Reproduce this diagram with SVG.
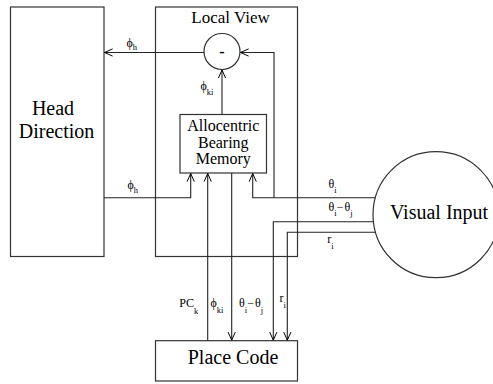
<svg xmlns="http://www.w3.org/2000/svg" width="493" height="384" viewBox="0 0 493 384">
<defs>
<style>
.box{fill:none;stroke:#333;stroke-width:1.2}
.ln{fill:none;stroke:#222;stroke-width:1.1}
text{font-family:'Liberation Serif','Times New Roman',Tinos,'DejaVu Serif',serif;fill:#000}
.big{font-size:20px;text-anchor:middle}
.mid{font-size:16px;text-anchor:middle}
.lab{font-size:12px}
.sub{font-size:8.5px}
</style>
<marker id="ah" viewBox="0 0 10 10" refX="9" refY="5" markerWidth="9" markerHeight="9" markerUnits="userSpaceOnUse" orient="auto">
<path d="M0,1 L9,5 L0,9" fill="none" stroke="#000" stroke-width="1.1"/>
</marker>
</defs>
<rect width="493" height="384" fill="#fff"/>

<g id="head-direction">
<rect class="box" x="10.5" y="7" width="93.5" height="249.5"/>
<text class="big" x="53" y="115" font-family="Liberation Serif, serif">Head</text>
<text class="big" x="56.5" y="138" font-family="Liberation Serif, serif">Direction</text>
</g>

<g id="local-view">
<rect class="box" x="155.5" y="7" width="142" height="249.5"/>
<text x="230.5" y="23" font-size="17" text-anchor="middle" font-family="Liberation Serif, serif">Local View</text>
</g>

<g id="subtract">
<circle class="box" cx="222" cy="51.5" r="18"/>
<text x="222" y="57" font-size="16" font-weight="bold" text-anchor="middle" font-family="Liberation Serif, serif">-</text>
</g>

<g id="allocentric-bearing-memory">
<rect class="box" x="180" y="114.5" width="86.5" height="58.5"/>
<text class="mid" x="223.3" y="131" font-family="Liberation Serif, serif">Allocentric</text>
<text class="mid" x="223.3" y="147.5" font-family="Liberation Serif, serif">Bearing</text>
<text class="mid" x="223.3" y="164" font-family="Liberation Serif, serif">Memory</text>
</g>

<g id="place-code">
<rect class="box" x="155.5" y="340.7" width="142" height="40.3"/>
<text class="big" x="233" y="364" font-family="Liberation Serif, serif">Place Code</text>
</g>

<g id="visual-input">
<circle class="box" cx="436" cy="214.7" r="63"/>
<text class="big" x="439" y="219" font-family="Liberation Serif, serif">Visual Input</text>
</g>

<g id="connectors">
<path class="ln" d="M204,52.5 H104.5" marker-end="url(#ah)"/>
<path class="ln" d="M222,114.5 V70" marker-end="url(#ah)"/>
<path class="ln" d="M375,197.7 H252.7 V173.5" marker-end="url(#ah)"/>
<path class="ln" d="M274,197.7 V52.5 H240.5" marker-end="url(#ah)"/>
<path class="ln" d="M104,197.7 H190.7 V173.5" marker-end="url(#ah)"/>
<path class="ln" d="M207.7,340.7 V173.5" marker-end="url(#ah)"/>
<path class="ln" d="M231.7,173 V340.2" marker-end="url(#ah)"/>
<path class="ln" d="M373.5,221.7 H273.3 V340.2" marker-end="url(#ah)"/>
<path class="ln" d="M376,232.3 H287.3 V340.2" marker-end="url(#ah)"/>
</g>

<g id="labels" font-family="Liberation Serif, DejaVu Serif, serif">
<text class="lab" x="126.5" y="46.5">ϕ<tspan class="sub" dy="3">h</tspan></text>
<text class="lab" x="127.5" y="189">ϕ<tspan class="sub" dy="3.5">h</tspan></text>
<text class="lab" x="200.5" y="89.5">ϕ<tspan class="sub" dy="5">ki</tspan></text>
<text class="lab" x="328.5" y="187.5">θ<tspan class="sub" dy="5.5">i</tspan></text>
<text class="lab" x="328.5" y="210.7">θ<tspan class="sub" dy="5.5">i</tspan><tspan dy="-5.5">−</tspan><tspan dx="1">θ</tspan><tspan class="sub" dy="5.5">j</tspan></text>
<text class="lab" x="327.3" y="243.3">r<tspan class="sub" dy="5.5">i</tspan></text>
<text class="lab" x="179.3" y="307">PC<tspan class="sub" dy="6.5">k</tspan></text>
<text class="lab" x="210.5" y="306.5">ϕ<tspan class="sub" dy="6">ki</tspan></text>
<text class="lab" x="239" y="307">θ<tspan class="sub" dy="5.5">i</tspan><tspan dy="-5.5">−</tspan><tspan dx="1">θ</tspan><tspan class="sub" dy="5.5">j</tspan></text>
<text class="lab" x="279.5" y="302">r<tspan class="sub" dy="5.5">i</tspan></text>
</g>
</svg>
